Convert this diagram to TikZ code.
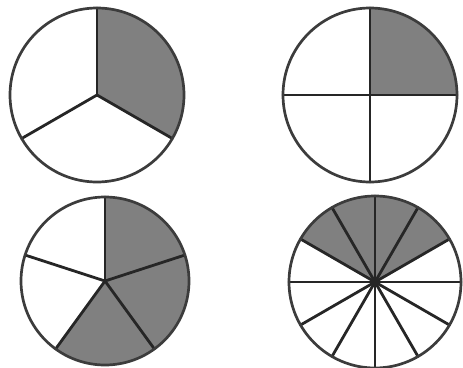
\documentclass[tikz,border=0pt]{standalone}
\definecolor{shadefill}{HTML}{808080}
\definecolor{inkline}{HTML}{262626}
\definecolor{rimline}{HTML}{3C3C3C}
\tikzset{
  rim/.style={draw=rimline, line width=2.7pt},
  spoke/.style={draw=inkline, line width=2.8pt},
  part/.style={fill=shadefill}
}
% #1 cx, #2 cy, #3 radius, #4 number of parts, #5 shaded start angle, #6 shaded end angle
\newcommand{\fracpie}[6]{%
  \begin{scope}[shift={(#1,#2)}]
    \fill[part] (0,0) -- (#5:#3) arc[start angle=#5, end angle=#6, radius=#3] -- cycle;
    \pgfmathsetmacro{\stepang}{360/#4}
    \foreach \k in {1,...,#4} {
      \draw[spoke, line cap=round] (0,0) -- ({90-(\k-1)*\stepang}:#3);
    }
    \draw[rim] (0,0) circle[radius=#3];
  \end{scope}}
\begin{document}
\begin{tikzpicture}[x=1pt,y=1pt]
\useasboundingbox (0,-367) rectangle (463,0);
\fracpie{97}{-95}{87}{3}{90}{-30}
\fracpie{370}{-95}{87}{4}{90}{0}
\fracpie{105}{-281}{84}{5}{90}{-126}
\fracpie{375}{-282}{86}{12}{150}{30}
\end{tikzpicture}
\end{document}
